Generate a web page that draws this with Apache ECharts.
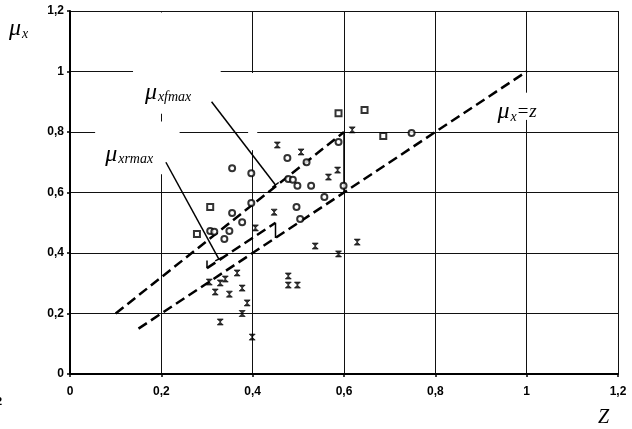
<!DOCTYPE html>
<html>
<head>
<meta charset="utf-8">
<script src="https://cdn.jsdelivr.net/npm/echarts@6/dist/echarts.min.js"></script>
<style>
html, body { margin: 0; padding: 0; background: #fff; }
#chart { width: 632px; height: 429px; }
</style>
</head>
<body>
<div id="chart"></div>
<script>
// 坐标轴刻度 (0 .. 1,2)
var axisMin = 0, axisMax = 1.2, axisStep = 0.2;

// 圆点数据 (z, mu_x)
var circlePts = [
	[0.355, 0.68], [0.397, 0.664], [0.476, 0.714], [0.518, 0.70], [0.588, 0.767],
	[0.478, 0.645], [0.488, 0.642], [0.498, 0.622], [0.528, 0.622], [0.599, 0.622],
	[0.557, 0.585], [0.496, 0.552], [0.504, 0.512], [0.397, 0.565], [0.377, 0.502],
	[0.307, 0.473], [0.316, 0.47], [0.349, 0.473], [0.338, 0.446], [0.355, 0.532],
	[0.748, 0.797]
];
// 方点数据
var squarePts = [
	[0.588, 0.862], [0.645, 0.873], [0.686, 0.787], [0.307, 0.552], [0.278, 0.463]
];
// 叉点数据
var crossPts = [
	[0.454, 0.757], [0.506, 0.734], [0.586, 0.674], [0.566, 0.651], [0.618, 0.807],
	[0.447, 0.535], [0.406, 0.483], [0.537, 0.423], [0.629, 0.436], [0.588, 0.397],
	[0.366, 0.334], [0.305, 0.304], [0.329, 0.301], [0.34, 0.314], [0.318, 0.271],
	[0.349, 0.264], [0.377, 0.284], [0.388, 0.235], [0.377, 0.2], [0.329, 0.172],
	[0.399, 0.122], [0.478, 0.324], [0.478, 0.294], [0.498, 0.294]
];

// 虚线
var lineIdentity = [[0.15, 0.15], [1, 1]];
var lineFmax = [[0.1, 0.2], [0.6, 0.8]];
var lineRmax = [[0.3, 0.35], [0.45, 0.5]];
// 竖线段
var stepFmax = [[0.6, 0.8], [0.6, 0.6]];
var stepRmax = [[0.45, 0.5], [0.45, 0.45]];
var tickRmax = [[0.3, 0.35], [0.3, 0.375]];
// 引线及其末端短线
var leaderFmax = [[0.31, 0.9], [0.45, 0.625]];
var leaderRmax = [[0.21, 0.70], [0.326, 0.38]];
var endFmax = [[0.443, 0.617], [0.457, 0.633]];
var endRmax = [[0.318, 0.374], [0.334, 0.386]];

function fmtNum(v) {
	return String(+v.toFixed(1)).replace('.', ',');
}

var myChart = echarts.init(document.getElementById('chart'));

var axisCommon = {
	type: 'value',
	min: axisMin,
	max: axisMax,
	interval: axisStep,
	axisLine: { show: true, lineStyle: { color: '#000', width: 2 } },
	axisTick: { show: true, length: 3, lineStyle: { color: '#000', width: 1.5 } },
	splitLine: { show: true, lineStyle: { color: '#111', width: 1 } },
	axisLabel: {
		formatter: fmtNum,
		color: '#000',
		fontSize: 12,
		fontWeight: 'bold',
		fontFamily: 'Liberation Sans'
	}
};

function dashed(data) {
	return {
		type: 'line', data: data, symbol: 'none', silent: true, z: 3,
		lineStyle: { color: '#000', width: 2.5, type: [10, 5] }
	};
}
function solid(data) {
	return {
		type: 'line', data: data, symbol: 'none', silent: true, z: 3,
		lineStyle: { color: '#000', width: 1.5 }
	};
}

var option = {
	animation: false,
	backgroundColor: '#fff',
	grid: { left: 70, right: 14, top: 11, bottom: 55 },
	xAxis: echarts.util.merge({ axisLabel: { margin: 12 } }, axisCommon),
	yAxis: echarts.util.merge({ axisLabel: { margin: 6 } }, axisCommon),
	series: [
		dashed(lineIdentity),
		dashed(lineFmax),
		dashed(lineRmax),
		solid(stepFmax),
		solid(stepRmax),
		solid(tickRmax),
		solid(leaderFmax),
		solid(leaderRmax),
		solid(endFmax),
		solid(endRmax),
		{
			type: 'scatter', data: circlePts, symbol: 'emptyCircle', symbolSize: 6, z: 4,
			itemStyle: { color: '#000', borderWidth: 1.5 }
		},
		{
			type: 'scatter', data: squarePts, symbol: 'emptyRect', symbolSize: 6, z: 4,
			itemStyle: { color: '#000', borderWidth: 1.5 }
		},
		{
			type: 'scatter', data: crossPts, symbol: 'path://M0,0 L10,0 L0,10 L10,10 Z', symbolSize: [6, 6], z: 4,
			itemStyle: { color: '#000', borderColor: '#000', borderWidth: 0.8 }
		}
	]
};
myChart.setOption(option);

// 标注 (数据坐标转像素)
function px(p) {
	return myChart.convertToPixel({ gridIndex: 0 }, p);
}
function gapRect(p1, p2) {
	var a = px(p1), b = px(p2);
	return {
		type: 'rect', z: 1, silent: true,
		shape: { x: a[0], y: a[1], width: b[0] - a[0], height: b[1] - a[1] },
		style: { fill: '#fff' }
	};
}
function txt(x, y, s, font) {
	return { type: 'text', x: x, y: y, z: 10, silent: true,
		style: { text: s, font: font, fill: '#000', textVerticalAlign: 'middle' } };
}
function muLabel(pos, sub, tail) {
	var children = [
		txt(0, 0, 'μ', 'italic 24px "Liberation Serif"'),
		txt(13, 5, sub, 'italic 14px "Liberation Serif"')
	];
	if (tail) {
		children.push(txt(19, 0, tail, 'italic 19px "Liberation Serif"'));
	}
	return { type: 'group', x: pos[0], y: pos[1], z: 10, children: children };
}

myChart.setOption({
	graphic: [
		gapRect([0.138, 1.195], [0.33, 0.86]),
		gapRect([0.055, 0.835], [0.24, 0.66]),
		gapRect([0.39, 0.995], [0.41, 0.74]),
		gapRect([0.99, 0.93], [1.01, 0.84]),
		muLabel(px([0.164, 0.93]), 'xfmax'),
		muLabel(px([0.077, 0.725]), 'xrmax'),
		muLabel(px([0.936, 0.866]), 'x', '=z'),
		muLabel([9, 29], 'x'),
		txt(598, 418, 'Z', 'italic 20px "Liberation Serif"'),
		txt(-4, 402, '2', 'bold 11px "Liberation Sans"')
	]
});
</script>
</body>
</html>
